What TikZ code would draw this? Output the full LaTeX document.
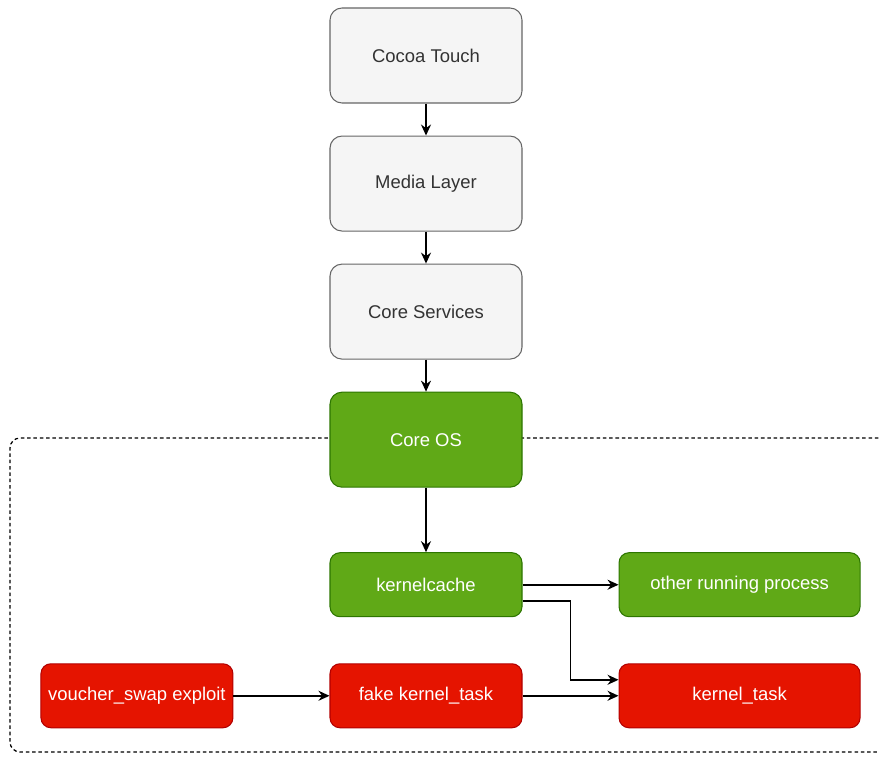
\documentclass[tikz,border=0pt]{standalone}
\usepackage{fontspec}
\setmainfont{Liberation Sans}
\usepackage{xcolor}
\usetikzlibrary{arrows.meta,positioning}
\definecolor{boxgray}{HTML}{F5F5F5}
\definecolor{linegray}{HTML}{666666}
\definecolor{txtgray}{HTML}{333333}
\definecolor{osgreen}{HTML}{60A917}
\definecolor{osgreenline}{HTML}{2D7600}
\definecolor{exred}{HTML}{E51400}
\definecolor{exredline}{HTML}{B20000}
\tikzset{
  layer/.style  ={draw=linegray,fill=boxgray,text=txtgray,rounded corners=2.4mm,
                  minimum width=38.4mm,minimum height=19mm,line width=0.6pt,
                  font=\fontsize{10.5}{12}\selectfont},
  coreos/.style ={layer,draw=osgreenline,fill=osgreen,text=white},
  kbox/.style   ={draw=osgreenline,fill=osgreen,text=white,rounded corners=2mm,
                  minimum width=38.4mm,minimum height=12.8mm,line width=0.6pt,
                  font=\fontsize{10.5}{12}\selectfont},
  xbox/.style   ={kbox,draw=exredline,fill=exred},
  wide/.style   ={minimum width=48.2mm},
  arr/.style    ={-{Stealth[length=2.2mm,width=2mm]},line width=0.9pt,black},
  zone/.style   ={dash pattern=on 2pt off 1.6pt,line width=0.7pt,rounded corners=2mm},
}

\begin{document}
\begin{tikzpicture}[node distance=6.4mm and 19.2mm]
  \useasboundingbox (0,0) rectangle (17.58,-15.16);
  % kernel zone, open on the right
  \begin{scope}
    \clip (0,0) rectangle (17.58,-15.16);
    \draw[zone] (18.2,-8.76) -- (0.2,-8.76) -- (0.2,-15.04) -- (18.2,-15.04);
  \end{scope}
  % iOS layers
  \node[layer] (ct) at (8.52,-1.11) {Cocoa Touch};
  \node[layer, below=of ct] (ml) {Media Layer};
  \node[layer, below=of ml] (cs) {Core Services};
  \node[coreos, below=of cs] (os) {Core OS};
  % kernel side
  \node[kbox, below=12.9mm of os] (kc) {kernelcache};
  \node[kbox, wide, right=of kc] (op) {other running process};
  \node[xbox, below=9.2mm of kc] (fk) {fake kernel\_task};
  \node[xbox, wide, right=of fk] (kt) {kernel\_task};
  \node[xbox, left=of fk] (vs) {voucher\_swap exploit};
  % arrows
  \draw[arr] (ct) -- (ml);
  \draw[arr] (ml) -- (cs);
  \draw[arr] (cs) -- (os);
  \draw[arr] (os) -- (kc);
  \draw[arr] (kc) -- (op);
  \draw[arr] ([yshift=-3.2mm]kc.east) -- ++(0.96,0) |- ([yshift=3.2mm]kt.west);
  \draw[arr] (vs) -- (fk);
  \draw[arr] (fk) -- (kt);
\end{tikzpicture}
\end{document}
